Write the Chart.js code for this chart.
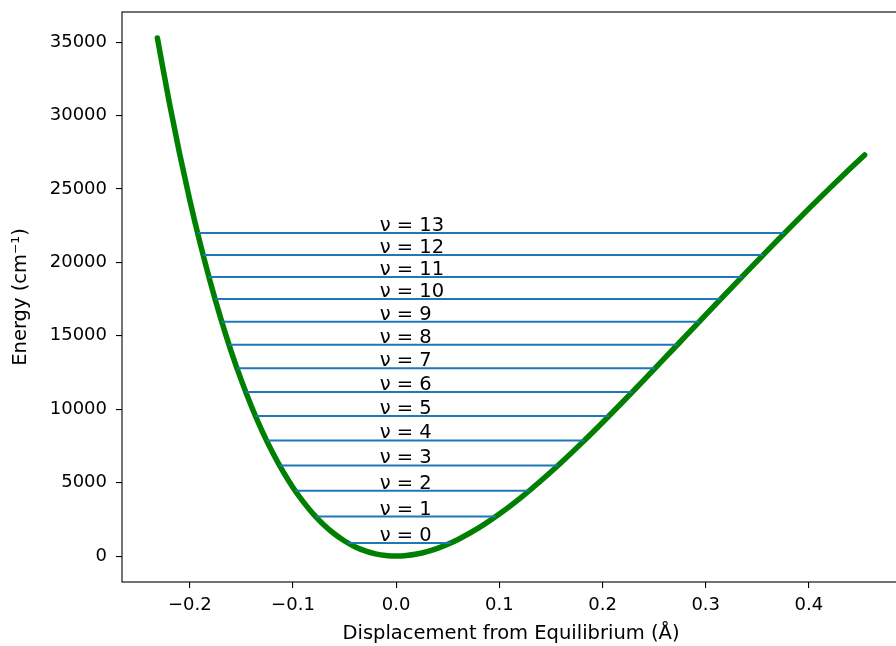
<!DOCTYPE html>
<html>
<head>
<meta charset="utf-8">
<title>Morse potential</title>
<script src="https://cdn.jsdelivr.net/npm/chart.js@4.4.1/dist/chart.umd.min.js"></script>
<style>
  body { margin: 0; overflow: hidden; background: #fff; }
  #wrap { width: 904px; height: 646px; }
</style>
</head>
<body>
<div id="wrap"><canvas id="morseChart" width="904" height="646"></canvas></div>
<script>
// potential curve, displacement (Å) vs energy (cm^-1)
const curveX = [-0.2314, -0.22, -0.21, -0.20, -0.19, -0.18, -0.17, -0.16, -0.15, -0.14,
    -0.13, -0.12, -0.11, -0.10, -0.09, -0.08, -0.07, -0.06, -0.05, -0.04,
    -0.03, -0.02, -0.01, 0.00, 0.01, 0.02, 0.03, 0.04, 0.05, 0.06,
    0.08, 0.10, 0.12, 0.14, 0.16, 0.18, 0.20, 0.22, 0.24, 0.26,
    0.28, 0.30, 0.32, 0.34, 0.36, 0.38, 0.40, 0.42, 0.44, 0.454];
const curveE = [35280, 30937, 27447, 24241, 21307, 18630, 16188, 13964, 11964, 10153,
    8531, 7084, 5801, 4673, 3690, 2842, 2123, 1521, 1030, 643,
    353, 153, 37, 0, 36, 139, 305, 529, 806, 1133,
    1921, 2863, 3933, 5113, 6377, 7710, 9100, 10528, 11985, 13457,
    14941, 16427, 17904, 19376, 20821, 22252, 23662, 25038, 26388, 27316];

// vibrational levels: energy and the two turning points
const levelNums = [0, 1, 2, 3, 4, 5, 6, 7, 8, 9, 10, 11, 12, 13];
const levelE = [895, 2690, 4450, 6175, 7875, 9540, 11180, 12790, 14390, 15960, 17500, 19010, 20500, 21995];
const levelLeft = [-0.0468, -0.0780, -0.0979, -0.1131, -0.1256, -0.1364, -0.1458, -0.1543, -0.1620, -0.1690, -0.1755, -0.1815, -0.1871, -0.1924];
const levelRight = [0.0529, 0.0965, 0.1290, 0.1569, 0.1824, 0.2062, 0.2290, 0.2510, 0.2726, 0.2937, 0.3145, 0.3350, 0.3555, 0.3763];

const xTicks = [-0.2, -0.1, 0.0, 0.1, 0.2, 0.3, 0.4];
const yTicks = [0, 5000, 10000, 15000, 20000, 25000, 30000, 35000];

const TICK_FONT = { family: 'DejaVu Sans', size: 18 };
const TEXT_FONT = { family: 'DejaVu Sans', size: 19.5 };
const LABEL_X = -0.016;

const datasets = levelNums.map((n, i) => ({
    label: 'v' + n,
    data: [{ x: levelLeft[i], y: levelE[i] }, { x: levelRight[i], y: levelE[i] }],
    showLine: true,
    borderColor: '#1f77b4',
    borderWidth: 2,
    pointRadius: 0,
    order: 0
}));
datasets.push({
    label: 'potential',
    data: curveX.map((x, i) => ({ x: x, y: curveE[i] })),
    showLine: true,
    borderColor: '#008000',
    borderWidth: 5.5,
    borderCapStyle: 'round',
    borderJoinStyle: 'round',
    cubicInterpolationMode: 'monotone',
    pointRadius: 0,
    order: 1
});

// axes box
const frame = {
    id: 'frame',
    afterDraw(chart) {
        const { ctx, chartArea: a } = chart;
        ctx.save();
        ctx.strokeStyle = '#000';
        ctx.lineWidth = 1.1;
        ctx.strokeRect(a.left, a.top, a.right - a.left, a.bottom - a.top);
        ctx.restore();
    }
};

// "ν = n" text sitting on each level
const levelLabels = {
    id: 'levelLabels',
    afterDatasetsDraw(chart) {
        const { ctx, scales } = chart;
        ctx.save();
        ctx.font = TEXT_FONT.size + 'px ' + TEXT_FONT.family;
        ctx.fillStyle = '#000';
        ctx.textAlign = 'left';
        ctx.textBaseline = 'alphabetic';
        levelNums.forEach((n, i) => {
            ctx.fillText('ν = ' + n, scales.x.getPixelForValue(LABEL_X), scales.y.getPixelForValue(levelE[i]) - 2);
        });
        ctx.restore();
    }
};

const fmtX = v => (Math.abs(v) < 1e-9 ? '0.0' : v.toFixed(1).replace('-', '\u2212'));

// keep the plot box where it is, regardless of tick label overhang
const noOverhang = s => {
    s.paddingTop = 0;
    s.paddingBottom = 0;
    s.paddingLeft = 0;
    s.paddingRight = 0;
};

new Chart(document.getElementById('morseChart'), {
    type: 'scatter',
    data: { datasets: datasets },
    options: {
        responsive: false,
        animation: false,
        devicePixelRatio: 1,
        layout: { padding: { top: 12, right: 4, left: 0, bottom: 0 } },
        plugins: { legend: { display: false }, tooltip: { enabled: false } },
        scales: {
            x: {
                type: 'linear',
                min: -0.2657,
                max: 0.4883,
                afterBuildTicks: s => { s.ticks = xTicks.map(v => ({ value: v })); },
                afterFit: s => { s.height = 64; noOverhang(s); },
                grid: { drawOnChartArea: false, drawTicks: true, tickLength: 6, color: '#000', lineWidth: 1.1 },
                border: { display: false },
                ticks: { font: TICK_FONT, color: '#000', padding: 7, maxRotation: 0, callback: v => fmtX(v) },
                title: {
                    display: true,
                    text: 'Displacement from Equilibrium (Å)',
                    font: TEXT_FONT,
                    color: '#000',
                    padding: { top: 0, bottom: 0 }
                }
            },
            y: {
                type: 'linear',
                min: -1764,
                max: 37050,
                afterBuildTicks: s => { s.ticks = yTicks.map(v => ({ value: v })); },
                afterFit: s => { s.width = 122; noOverhang(s); },
                grid: { drawOnChartArea: false, drawTicks: true, tickLength: 6, color: '#000', lineWidth: 1.1 },
                border: { display: false },
                ticks: { font: TICK_FONT, color: '#000', padding: 9, callback: v => String(v) },
                title: {
                    display: true,
                    text: 'Energy (cm⁻¹)',
                    font: TEXT_FONT,
                    color: '#000',
                    padding: { top: 9, bottom: 0 }
                }
            }
        }
    },
    plugins: [frame, levelLabels]
});
</script>
</body>
</html>
